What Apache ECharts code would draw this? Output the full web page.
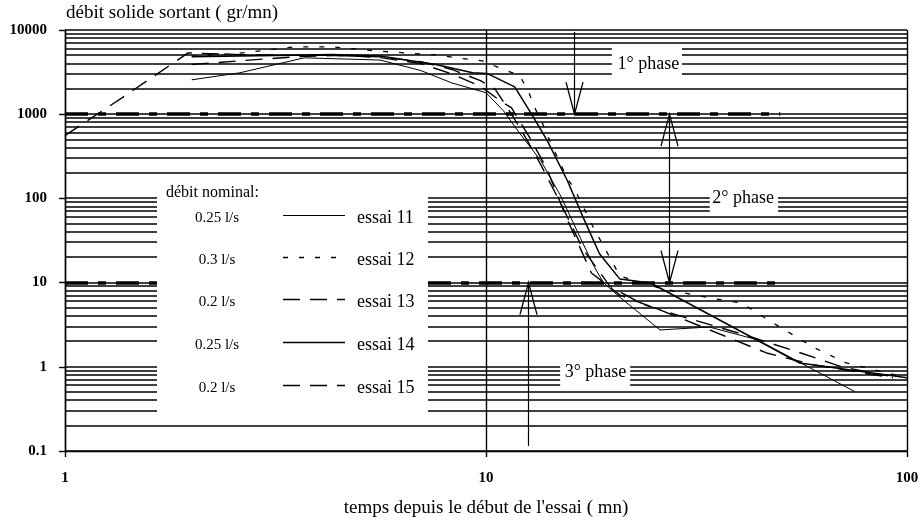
<!DOCTYPE html>
<html><head><meta charset="utf-8">
<script src="https://cdn.jsdelivr.net/npm/echarts@6/dist/echarts.min.js"></script>
<style>html,body{margin:0;padding:0;background:#fff}#c{width:922px;height:524px}</style>
</head><body><div id="c"></div>
<script>
// ---------------- data ----------------
const seriesNames = ['essai 11', 'essai 12', 'essai 13', 'essai 14', 'essai 15'];
const legendRates = ['0.25 l/s', '0.3 l/s', '0.2 l/s', '0.25 l/s', '0.2 l/s'];

const e11X = [2, 2.6, 3.7, 5.6, 7, 8.3, 10, 11, 12, 13.5, 15, 16.5, 18, 19, 20.8, 25.9, 33.9, 44, 75];
const e11Y = [2560, 3100, 4670, 4400, 3300, 2350, 1800, 1100, 600, 280, 110, 40, 16, 10, 6.7, 2.74, 2.97, 2.1, 0.51];

const e12X = [2, 2.6, 3.5, 4.3, 5.6, 7.6, 9.05, 9.8, 11, 12, 12.6, 13.05, 13.6, 14, 14.6, 15.6, 16.2, 18, 20.8, 26, 34.5, 40.5, 47.7, 60.3, 71.8, 100];
const e12Y = [4900, 5300, 6300, 6300, 5600, 5060, 4500, 4300, 3400, 2900, 1900, 1200, 790, 560, 350, 172, 131, 45, 12, 8.5, 6.5, 5.7, 3.4, 1.68, 1.11, 0.74];

const e13X = [2, 2.6, 3.5, 4.5, 5.6, 7, 8.3, 9.7, 10.8, 11.5, 12.7, 13.9, 15.5, 17.8, 20.8, 26.6, 37.9, 46.4, 59.7, 92.6];
const e13Y = [3900, 4300, 4800, 5000, 4700, 4000, 3000, 2150, 1445, 1190, 527, 233, 60, 13, 7.1, 4.5, 2.2, 1.46, 1.06, 0.74];

const e14X = [2, 2.6, 3.5, 4.3, 5.6, 7.6, 9.3, 10.05, 11.7, 13, 14, 15.6, 17, 18.6, 20.8, 24.6, 55.6, 100];
const e14Y = [4800, 4900, 5000, 5100, 4900, 3900, 3100, 3050, 2110, 900, 480, 163, 60, 22, 11, 9.9, 1.11, 0.74];

const e15X = [1, 1.4, 1.96, 2.6, 3.5, 4.3, 5.6, 7, 8.3, 9.7, 10.5, 11.5, 12.5, 13.5, 15, 17, 19.7, 23.6, 30, 40, 55, 70, 90];
const e15Y = [557, 1700, 5340, 5100, 5000, 5000, 4800, 4200, 3400, 2500, 2000, 1000, 500, 250, 90, 25, 9, 5.5, 3.8, 2.5, 1.5, 1.0, 0.78];

const xTickValues = [1, 10, 100];
const yTickValues = [0.1, 1, 10, 100, 1000, 10000];
const gridDecades = [0.1, 1, 10, 100, 1000];
const gridMultiples = [1, 2, 3, 4, 5, 6, 7, 8, 9];

const phaseBoundaries = [1000, 10];
const phaseBoundaryEnd = 50;
const phaseLabels = ['1° phase', '2° phase', '3° phase'];
const phaseLabelX = [24.3, 40.8, 18.2];
const phaseLabelY = [3960, 100, 0.87];

const arrowX = [16.2, 27.2, 12.6];
const arrowFrom = [9500, 1000, 10];
const arrowTo = [1000, 10, 0.115];
const arrowHeadTop = [false, true, true];
const arrowHeadBottom = [true, true, false];

// blank areas in the grid (legend box and phase labels), in data units
const gridGaps = [
  { x: [1.654, 7.28], y: [0.25, 105] },
  { x: [19.9, 29.2], y: [2900, 6500] },
  { x: [34.0, 49.4], y: [65, 105] },
  { x: [15.0, 22.0], y: [0.55, 1.05] }
];

// ---------------- helpers ----------------
const FONT = '"Liberation Serif", "Times New Roman", serif';
const xs = [e11X, e12X, e13X, e14X, e15X];
const ys = [e11Y, e12Y, e13Y, e14Y, e15Y];
const dashes = ['solid', [5, 11], [17, 10], 'solid', [17, 10]];
const widths = [1, 1.3, 1.4, 1.5, 1.4];

function segmentsFor(v, xmin, xmax) {
  let segs = [[xmin, xmax]];
  gridGaps.forEach(g => {
    if (v >= g.y[0] && v <= g.y[1]) {
      const out = [];
      segs.forEach(s => {
        if (g.x[1] <= s[0] || g.x[0] >= s[1]) { out.push(s); return; }
        if (g.x[0] > s[0]) out.push([s[0], g.x[0]]);
        if (g.x[1] < s[1]) out.push([g.x[1], s[1]]);
      });
      segs = out;
    }
  });
  return segs;
}

const gridValues = [];
gridDecades.forEach(d => gridMultiples.forEach(m => gridValues.push(+(d * m).toPrecision(3))));
gridValues.push(10000);

const gridSegs = [];
gridValues.forEach(v => segmentsFor(v, 1, 100).forEach(s => gridSegs.push([s[0], v, s[1]])));

const phaseSegs = [];
phaseBoundaries.forEach(v => segmentsFor(v, 1, phaseBoundaryEnd).forEach(s => phaseSegs.push([s[0], v, s[1]])));

function hline(stroke, width, dash) {
  return function (params, api) {
    const p1 = api.coord([api.value(0), api.value(1)]);
    const p2 = api.coord([api.value(2), api.value(1)]);
    const y = Math.round(p1[1]);
    return { type: 'line', shape: { x1: p1[0], y1: y, x2: p2[0], y2: y },
      style: { stroke: stroke, lineWidth: width, lineDash: dash || null } };
  };
}

const series = [];
series.push({ type: 'custom', coordinateSystem: 'cartesian2d', silent: true, z: 1,
  encode: { x: [0, 2], y: 1 }, data: gridSegs, renderItem: hline('#000', 1.4) });
series.push({ type: 'custom', coordinateSystem: 'cartesian2d', silent: true, z: 3,
  encode: { x: [0, 2], y: 1 }, data: phaseSegs, renderItem: hline('#000', 3.5, [23, 10, 8, 10]) });

xs.forEach((arr, i) => {
  series.push({
    name: seriesNames[i], type: 'line', symbol: 'none', z: 4, silent: true,
    data: arr.map((x, k) => [x, ys[i][k]]),
    lineStyle: { color: '#000', width: widths[i], type: dashes[i] }
  });
});

// arrows
series.push({ type: 'custom', coordinateSystem: 'cartesian2d', silent: true, z: 5,
  encode: { x: 0, y: [1, 2] },
  data: arrowX.map((x, i) => [x, arrowFrom[i], arrowTo[i], arrowHeadTop[i] ? 1 : 0, arrowHeadBottom[i] ? 1 : 0]),
  renderItem: function (params, api) {
    const a = api.coord([api.value(0), api.value(1)]);
    const b = api.coord([api.value(0), api.value(2)]);
    const x = Math.round(a[0]) + 0.5;
    const ch = [{ type: 'line', shape: { x1: x, y1: a[1], x2: x, y2: b[1] }, style: { stroke: '#000', lineWidth: 1.2 } }];
    const L = 32, W = 8.5;
    if (api.value(3)) ch.push({ type: 'polyline', shape: { points: [[x - W, a[1] + L], [x, a[1]], [x + W, a[1] + L]] }, style: { stroke: '#000', fill: null, lineWidth: 1.3 } });
    if (api.value(4)) ch.push({ type: 'polyline', shape: { points: [[x - W, b[1] - L], [x, b[1]], [x + W, b[1] - L]] }, style: { stroke: '#000', fill: null, lineWidth: 1.3 } });
    return { type: 'group', children: ch };
  }
});

// phase labels
series.push({ type: 'custom', coordinateSystem: 'cartesian2d', silent: true, z: 6,
  encode: { x: 0, y: 1 },
  data: phaseLabelX.map((x, i) => [x, phaseLabelY[i], i]),
  renderItem: function (params, api) {
    const p = api.coord([api.value(0), api.value(1)]);
    return { type: 'text', x: p[0], y: p[1],
      style: { text: phaseLabels[api.value(2)], fill: '#000', font: '18px ' + FONT,
        align: 'center', verticalAlign: 'middle', textAlign: 'center', textVerticalAlign: 'middle' } };
  }
});

// legend drawn as graphic
const legendRowY = [218, 260, 302, 345, 388];
const graphics = [];
graphics.push({ type: 'text', x: 166, y: 193, style: { text: 'débit nominal:', fill: '#000', font: '16px ' + FONT, align: 'left', verticalAlign: 'middle', textAlign: 'left', textVerticalAlign: 'middle' } });
legendRowY.forEach((y, i) => {
  graphics.push({ type: 'text', x: 217, y: y, style: { text: legendRates[i], fill: '#000', font: '15px ' + FONT, align: 'center', verticalAlign: 'middle', textAlign: 'center', textVerticalAlign: 'middle' } });
  graphics.push({ type: 'line', shape: { x1: 283, y1: y - 2.5, x2: 345, y2: y - 2.5 }, style: { stroke: '#000', lineWidth: widths[i], lineDash: dashes[i] === 'solid' ? null : dashes[i] } });
  graphics.push({ type: 'text', x: 357, y: y, style: { text: seriesNames[i], fill: '#000', font: '18px ' + FONT, align: 'left', verticalAlign: 'middle', textAlign: 'left', textVerticalAlign: 'middle' } });
});
graphics.push({ type: 'text', x: 66, y: 13, style: { text: 'débit solide sortant ( gr/mn)', fill: '#000', font: '19px ' + FONT, align: 'left', verticalAlign: 'middle', textAlign: 'left', textVerticalAlign: 'middle' } });

const chart = echarts.init(document.getElementById('c'), null, { renderer: 'canvas' });
chart.setOption({
  animation: false,
  backgroundColor: '#fff',
  grid: { left: 65, right: 15, top: 30, bottom: 73, containLabel: false, outerBoundsMode: 'none' },
  xAxis: {
    type: 'log', logBase: 10, min: xTickValues[0], max: xTickValues[xTickValues.length - 1],
    name: "temps depuis le début de l'essai ( mn)", nameLocation: 'middle', nameGap: 48,
    nameTextStyle: { color: '#000', fontFamily: FONT, fontSize: 19 },
    axisLine: { show: true, lineStyle: { color: '#000', width: 1.4 } },
    axisTick: { show: true, length: 6, lineStyle: { color: '#000', width: 1.4 } },
    axisLabel: { color: '#000', fontFamily: FONT, fontSize: 15, fontWeight: 'bold', margin: 20, showMinLabel: true, showMaxLabel: true },
    splitLine: { show: true, lineStyle: { color: '#000', width: 1.4 } },
    minorTick: { show: false }, minorSplitLine: { show: false }
  },
  yAxis: {
    type: 'log', logBase: 10, min: yTickValues[0], max: yTickValues[yTickValues.length - 1],
    axisLine: { show: true, lineStyle: { color: '#000', width: 1.4 } },
    axisTick: { show: true, length: 6, lineStyle: { color: '#000', width: 1.4 } },
    axisLabel: { color: '#000', fontFamily: FONT, fontSize: 15, fontWeight: 'bold', margin: 18, showMinLabel: true, showMaxLabel: true,
      formatter: v => String(+v.toPrecision(3)) },
    splitLine: { show: false },
    minorTick: { show: false }, minorSplitLine: { show: false }
  },
  graphic: graphics,
  series: series
});
</script>
</body></html>
